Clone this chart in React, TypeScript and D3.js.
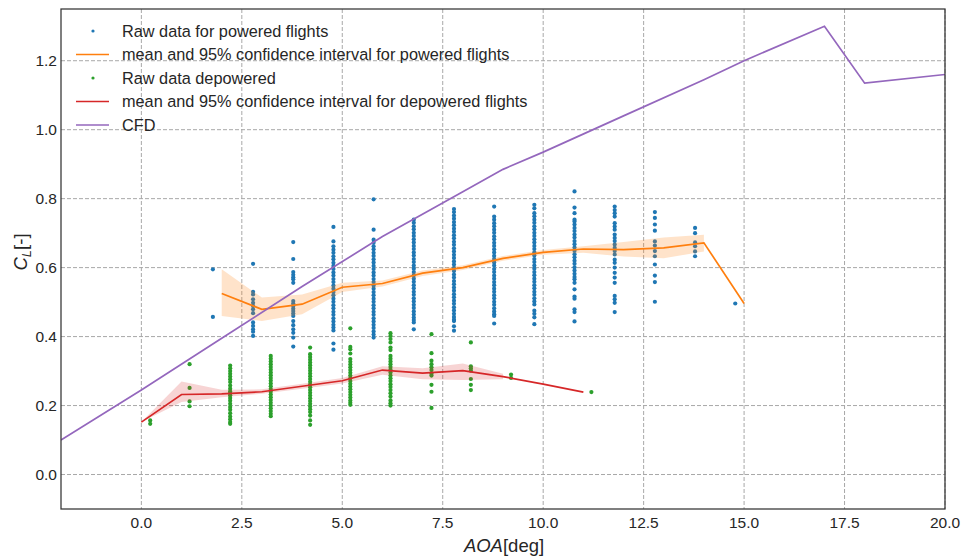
import React from 'react';
import * as d3 from 'd3';

const W = 961;
const H = 556;
const PLOT = { left: 61, right: 945, top: 9, bottom: 509 };

const xTicks = [0, 2.5, 5, 7.5, 10, 12.5, 15, 17.5, 20];
const yTicks = [0, 0.2, 0.4, 0.6, 0.8, 1.0, 1.2];

// CFD curve
const cfdAoa = [-2, 0, 2, 4, 6, 8, 9, 10, 12, 14, 15, 17, 18, 20];
const cfdCl = [0.10, 0.245, 0.395, 0.545, 0.69, 0.82, 0.885, 0.935, 1.04, 1.145, 1.2, 1.30, 1.135, 1.16];

// Powered flights: mean and 95% CI
const poweredAoa = [2, 3, 4, 5, 6, 7, 8, 9, 10, 11, 12, 13, 14, 15];
const poweredMean = [0.525, 0.479, 0.494, 0.543, 0.554, 0.584, 0.600, 0.627, 0.644, 0.654, 0.652, 0.657, 0.672, 0.496];
const poweredLow = [0.460, 0.445, 0.465, 0.529, 0.545, 0.576, 0.593, 0.620, 0.637, 0.643, 0.632, 0.627, 0.647, null];
const poweredHigh = [0.595, 0.513, 0.522, 0.556, 0.563, 0.592, 0.607, 0.634, 0.651, 0.662, 0.674, 0.687, 0.695, null];

// Depowered flights: mean and 95% CI
const depoweredAoa = [0, 1, 2, 3, 4, 5, 6, 7, 8, 9, 10, 11];
const depoweredMean = [0.152, 0.232, 0.234, 0.240, 0.256, 0.272, 0.303, 0.294, 0.301, 0.284, 0.262, 0.239];
const depoweredLow = [0.152, 0.210, 0.224, 0.234, 0.249, 0.264, 0.289, 0.276, 0.274, 0.276, null, null];
const depoweredHigh = [0.152, 0.270, 0.246, 0.247, 0.263, 0.280, 0.314, 0.308, 0.322, 0.292, null, null];

// Raw data, powered (grouped by AOA column)
const poweredRawAoa = [1.78, 2.78, 3.78, 4.78, 5.78, 6.78, 7.78, 8.78, 9.78, 10.78, 11.78, 12.78, 13.78, 14.78];
const poweredRawCl = [
  [0.595, 0.457],
  [0.611, 0.530, 0.522, 0.508, 0.498, 0.489, 0.479, 0.468, 0.441, 0.431, 0.421, 0.414, 0.402],
  [0.674, 0.625, 0.587, 0.579, 0.572, 0.566, 0.556, 0.503, 0.496, 0.489, 0.481, 0.474, 0.467, 0.460, 0.445, 0.433, 0.421, 0.411, 0.397, 0.371],
  [0.718, 0.676, 0.662, 0.652, 0.643, 0.633, 0.624, 0.614, 0.605, 0.596, 0.586, 0.577, 0.567, 0.558, 0.548, 0.539, 0.529, 0.520, 0.510, 0.501, 0.491, 0.482, 0.472, 0.463, 0.453, 0.444, 0.434, 0.426, 0.418, 0.380, 0.362],
  [0.798, 0.710, 0.681, 0.672, 0.662, 0.653, 0.643, 0.634, 0.624, 0.615, 0.605, 0.596, 0.586, 0.577, 0.567, 0.558, 0.548, 0.539, 0.529, 0.520, 0.510, 0.501, 0.491, 0.482, 0.472, 0.463, 0.453, 0.444, 0.434, 0.425, 0.415, 0.406, 0.397],
  [0.739, 0.730, 0.720, 0.711, 0.701, 0.692, 0.682, 0.673, 0.663, 0.654, 0.644, 0.635, 0.625, 0.616, 0.606, 0.597, 0.587, 0.578, 0.568, 0.559, 0.549, 0.540, 0.530, 0.521, 0.511, 0.502, 0.492, 0.483, 0.473, 0.464, 0.455, 0.448, 0.441, 0.421],
  [0.770, 0.761, 0.751, 0.742, 0.732, 0.723, 0.713, 0.704, 0.694, 0.685, 0.675, 0.666, 0.656, 0.647, 0.637, 0.628, 0.618, 0.609, 0.599, 0.590, 0.580, 0.571, 0.561, 0.552, 0.542, 0.533, 0.523, 0.514, 0.504, 0.495, 0.485, 0.476, 0.466, 0.457, 0.449, 0.445, 0.430, 0.417],
  [0.777, 0.748, 0.739, 0.729, 0.720, 0.710, 0.701, 0.691, 0.682, 0.672, 0.663, 0.653, 0.644, 0.634, 0.625, 0.615, 0.606, 0.596, 0.587, 0.577, 0.568, 0.558, 0.549, 0.539, 0.530, 0.520, 0.511, 0.501, 0.492, 0.482, 0.473, 0.465, 0.460, 0.438],
  [0.782, 0.772, 0.758, 0.749, 0.739, 0.730, 0.720, 0.711, 0.701, 0.692, 0.682, 0.673, 0.663, 0.654, 0.644, 0.635, 0.625, 0.616, 0.606, 0.597, 0.587, 0.578, 0.568, 0.559, 0.549, 0.540, 0.530, 0.521, 0.511, 0.502, 0.493, 0.475, 0.466, 0.456, 0.436],
  [0.821, 0.774, 0.758, 0.739, 0.734, 0.725, 0.715, 0.706, 0.696, 0.687, 0.677, 0.668, 0.658, 0.649, 0.639, 0.630, 0.620, 0.611, 0.601, 0.592, 0.582, 0.573, 0.566, 0.556, 0.537, 0.516, 0.510, 0.479, 0.471, 0.444],
  [0.777, 0.767, 0.758, 0.748, 0.729, 0.719, 0.710, 0.696, 0.686, 0.677, 0.667, 0.657, 0.648, 0.638, 0.623, 0.614, 0.600, 0.585, 0.571, 0.556, 0.518, 0.508, 0.498, 0.471],
  [0.761, 0.744, 0.725, 0.707, 0.676, 0.664, 0.648, 0.633, 0.609, 0.577, 0.558, 0.501],
  [0.715, 0.700, 0.673, 0.662, 0.647, 0.633],
  [0.496],
];

// Raw data, depowered
const depoweredRawAoa = [0.22, 1.2, 2.21, 3.22, 4.2, 5.2, 6.2, 7.22, 8.2, 9.2, 11.2];
const depoweredRawCl = [
  [0.157, 0.147],
  [0.320, 0.251, 0.212, 0.198],
  [0.316, 0.308, 0.300, 0.292, 0.284, 0.276, 0.268, 0.258, 0.249, 0.241, 0.236, 0.230, 0.222, 0.214, 0.205, 0.196, 0.188, 0.178, 0.168, 0.160, 0.152, 0.147],
  [0.344, 0.336, 0.328, 0.320, 0.312, 0.304, 0.296, 0.288, 0.280, 0.272, 0.264, 0.256, 0.248, 0.240, 0.232, 0.224, 0.216, 0.208, 0.200, 0.192, 0.184, 0.176, 0.169],
  [0.368, 0.349, 0.341, 0.333, 0.325, 0.317, 0.309, 0.301, 0.293, 0.285, 0.277, 0.269, 0.261, 0.253, 0.245, 0.237, 0.229, 0.221, 0.213, 0.205, 0.197, 0.189, 0.181, 0.171, 0.157, 0.144],
  [0.424, 0.370, 0.363, 0.351, 0.335, 0.327, 0.319, 0.311, 0.303, 0.295, 0.287, 0.279, 0.271, 0.263, 0.255, 0.247, 0.239, 0.231, 0.223, 0.215, 0.208, 0.202],
  [0.410, 0.402, 0.393, 0.383, 0.368, 0.361, 0.344, 0.336, 0.328, 0.320, 0.312, 0.304, 0.296, 0.287, 0.279, 0.271, 0.262, 0.254, 0.245, 0.236, 0.226, 0.215, 0.207, 0.200],
  [0.407, 0.352, 0.330, 0.320, 0.311, 0.303, 0.293, 0.287, 0.260, 0.240, 0.193],
  [0.383, 0.314, 0.308, 0.301, 0.277, 0.260, 0.245],
  [0.290, 0.280],
  [0.239],
];

const legendItems = [
  { label: 'Raw data for powered flights', kind: 'dot', color: '#1f77b4' },
  { label: 'mean and 95% confidence interval for powered flights', kind: 'line', color: '#ff7f0e' },
  { label: 'Raw data depowered', kind: 'dot', color: '#2ca02c' },
  { label: 'mean and 95% confidence interval for depowered flights', kind: 'line', color: '#d62728' },
  { label: 'CFD', kind: 'line', color: '#9467bd' },
];

const TEXT = '#262626';
const FONT = '"Liberation Sans", Arial, sans-serif';

export default function App() {
  const x = d3.scaleLinear().domain([-2, 20]).range([PLOT.left, PLOT.right]);
  const y = d3.scaleLinear().domain([-0.1, 1.35]).range([PLOT.bottom, PLOT.top]);

  const line = d3.line<[number, number]>().x(d => x(d[0])).y(d => y(d[1]));
  type B = { a: number; lo: number | null; hi: number | null };
  const area = d3.area<B>()
    .defined(d => d.lo != null && d.hi != null)
    .x(d => x(d.a))
    .y0(d => y(d.lo as number))
    .y1(d => y(d.hi as number));

  const cfdPts = cfdAoa.map((a, i) => [a, cfdCl[i]] as [number, number]);
  const pMeanPts = poweredAoa.map((a, i) => [a, poweredMean[i]] as [number, number]);
  const dMeanPts = depoweredAoa.map((a, i) => [a, depoweredMean[i]] as [number, number]);
  const pBand = poweredAoa.map((a, i) => ({ a, lo: poweredLow[i], hi: poweredHigh[i] }));
  const dBand = depoweredAoa.map((a, i) => ({ a, lo: depoweredLow[i], hi: depoweredHigh[i] }));

  const pDots: [number, number][] = [];
  poweredRawAoa.forEach((a, i) => poweredRawCl[i].forEach(v => pDots.push([a, v])));
  const dDots: [number, number][] = [];
  depoweredRawAoa.forEach((a, i) => depoweredRawCl[i].forEach(v => dDots.push([a, v])));

  const fmt = d3.format('.1f');

  return (
    <svg width={W} height={H} style={{ position: 'absolute', left: 0, top: 0, background: '#fff' }} fontFamily={FONT}>
      <defs>
        <clipPath id="plotclip">
          <rect x={PLOT.left} y={PLOT.top} width={PLOT.right - PLOT.left} height={PLOT.bottom - PLOT.top} />
        </clipPath>
      </defs>
      <rect x={0} y={0} width={W} height={H} fill="#fff" />
      {/* grid */}
      <g stroke="#a8a8a8" strokeWidth={1} strokeDasharray="4,2">
        {xTicks.map(t => (
          <line key={'gx' + t} x1={x(t)} x2={x(t)} y1={PLOT.top} y2={PLOT.bottom} />
        ))}
        {yTicks.map(t => (
          <line key={'gy' + t} x1={PLOT.left} x2={PLOT.right} y1={y(t)} y2={y(t)} />
        ))}
      </g>
      <g clipPath="url(#plotclip)">
        {pDots.map((d, i) => (
          <circle key={'p' + i} cx={x(d[0])} cy={y(d[1])} r={2.1} fill="#1f77b4" />
        ))}
        <path d={area(pBand) || ''} fill="#ff7f0e" fillOpacity={0.22} />
        <path d={line(pMeanPts) || ''} fill="none" stroke="#ff7f0e" strokeWidth={1.7} />
        {dDots.map((d, i) => (
          <circle key={'d' + i} cx={x(d[0])} cy={y(d[1])} r={2.1} fill="#2ca02c" />
        ))}
        <path d={area(dBand) || ''} fill="#d62728" fillOpacity={0.2} />
        <path d={line(dMeanPts) || ''} fill="none" stroke="#d62728" strokeWidth={1.7} />
        <path d={line(cfdPts) || ''} fill="none" stroke="#9467bd" strokeWidth={1.7} />
      </g>
      {/* spines */}
      <rect x={PLOT.left} y={PLOT.top} width={PLOT.right - PLOT.left} height={PLOT.bottom - PLOT.top}
        fill="none" stroke="#333" strokeWidth={1.25} />
      {/* tick labels */}
      <g fill={TEXT} fontSize={15.5}>
        {xTicks.map(t => (
          <text key={'tx' + t} x={x(t)} y={PLOT.bottom + 18.5} textAnchor="middle">{fmt(t)}</text>
        ))}
        {yTicks.map(t => (
          <text key={'ty' + t} x={PLOT.left - 4} y={y(t) + 5.5} textAnchor="end">{fmt(t)}</text>
        ))}
      </g>
      {/* axis labels */}
      <text x={504} y={552} textAnchor="middle" fill={TEXT} fontSize={18.5}>
        <tspan fontStyle="italic">AOA</tspan>
        <tspan>[deg]</tspan>
      </text>
      <text transform={`translate(27, 252) rotate(-90)`} textAnchor="middle" fill={TEXT} fontSize={18.5}>
        <tspan fontStyle="italic">C</tspan>
        <tspan fontStyle="italic" fontSize={13} dy={4}>L</tspan>
        <tspan dy={-4}>[-]</tspan>
      </text>
      {/* legend */}
      <g fontSize={16.3} fill={TEXT}>
        {legendItems.map((it, i) => {
          const cy = 31 + i * 23.5;
          return (
            <g key={'lg' + i}>
              {it.kind === 'dot' ? (
                <circle cx={93} cy={cy} r={1.6} fill={it.color} />
              ) : (
                <line x1={76} x2={109} y1={cy} y2={cy} stroke={it.color} strokeWidth={1.7} />
              )}
              <text x={122} y={cy + 5.5}>{it.label}</text>
            </g>
          );
        })}
      </g>
    </svg>
  );
}
